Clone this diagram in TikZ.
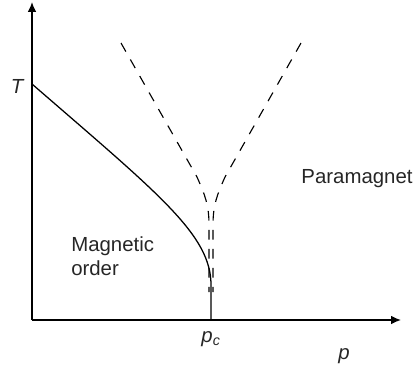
\documentclass[tikz,border=0pt]{standalone}
\usepackage{fontspec}
\setmainfont{Liberation Sans}
\usetikzlibrary{arrows.meta}
\begin{document}
\begin{tikzpicture}[x=0.025cm,y=-0.025cm,
  axis/.style={line width=0.9pt,-{Latex[length=7pt,width=6pt]}},
  curve/.style={line width=0.9pt},
  dashcurve/.style={line width=0.8pt,dash pattern=on 7pt off 6.5pt},
  lbl/.style={font=\fontsize{14.5}{17}\selectfont,inner sep=0pt,text=black!85}]
\useasboundingbox (0,0) rectangle (419,371);
\coordinate (O) at (32,320);
\coordinate (Ytop) at (32,2);
\coordinate (Xend) at (401,320);
\draw[axis] (O) -- (Ytop);
\draw[axis] (O) -- (Xend);
\coordinate (Tc) at (32,84);
\coordinate (Pc) at (211,320);
\draw[curve] (Tc) .. controls (160,195) and (211,235) .. (211,285) -- (Pc);
\coordinate (L1) at (121,43);
\coordinate (L2) at (209,292);
\coordinate (R1) at (301,43);
\coordinate (R2) at (213,292);
\draw[dashcurve] (L1) -- (197,177) .. controls (205,195) and (209,205) .. (209,225) -- (L2);
\draw[dashcurve] (R1) -- (225,177) .. controls (217,195) and (213,205) .. (213,225) -- (R2);
\node[lbl,font=\fontsize{14.5}{17}\selectfont\itshape] (T) at (17,86) {T};
\node[lbl,font=\fontsize{14.5}{17}\selectfont\itshape] (pc) at (211,339) {p\textsubscript{c}};
\node[lbl,font=\fontsize{14.5}{17}\selectfont\itshape] (p) at (344,356) {p};
\node[lbl] (para) at (357,179) {Paramagnet};
\node[lbl,align=left,anchor=west] (mo) at (71,256) {Magnetic\\order};
\end{tikzpicture}
\end{document}
